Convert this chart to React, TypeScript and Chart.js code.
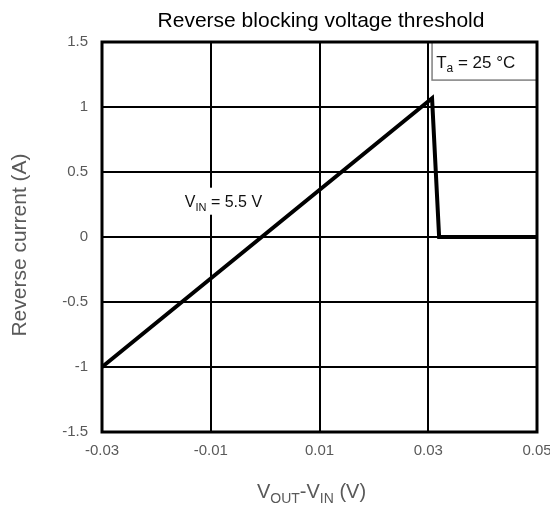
import React, { useEffect, useRef } from "react";
import { Chart, registerables } from "chart.js";

Chart.register(...registerables);

// ---- data ----
const vDiff = [-0.03, 0.0307, 0.032, 0.05];
const reverseCurrent = [-1.0, 1.067, 0, 0];
const xTicks = [-0.03, -0.01, 0.01, 0.03, 0.05];
const yTicks = [-1.5, -1, -0.5, 0, 0.5, 1, 1.5];
const chartTitle = "Reverse blocking voltage threshold";
const yTitle = "Reverse current (A)";
const xTitleParts = [
  { t: "V" },
  { t: "OUT", sub: true },
  { t: "-V" },
  { t: "IN", sub: true },
  { t: " (V)" },
];
const vinParts = [{ t: "V" }, { t: "IN", sub: true }, { t: " = 5.5 V" }];
const taParts = [{ t: "T" }, { t: "a", sub: true }, { t: " = 25 °C" }];
// annotation anchors (data coordinates)
const vinAnchor = { x: -0.01477, y: 0.233 };
const taAnchor = { x: 0.03146, y: 1.302 };
const taBox = { x0: 0.0307, x1: 0.05, y0: 1.207, y1: 1.5 };

const FONT = "'Liberation Sans', Arial, sans-serif";
const GRAY = "#595959";

type Part = { t: string; sub?: boolean };

function drawRich(
  ctx: CanvasRenderingContext2D,
  parts: Part[],
  x: number,
  y: number,
  size: number,
  subSize: number,
  subDy: number,
  align: "left" | "center"
) {
  const widths = parts.map((p) => {
    ctx.font = `${p.sub ? subSize : size}px ${FONT}`;
    return ctx.measureText(p.t).width;
  });
  const total = widths.reduce((a, b) => a + b, 0);
  let cx = align === "center" ? x - total / 2 : x;
  ctx.textAlign = "left";
  ctx.textBaseline = "alphabetic";
  parts.forEach((p, i) => {
    ctx.font = `${p.sub ? subSize : size}px ${FONT}`;
    ctx.fillText(p.t, cx, y + (p.sub ? subDy : 0));
    cx += widths[i];
  });
  return total;
}

const decorPlugin = {
  id: "decor",
  beforeDatasetsDraw(chart: any) {
    const { ctx, chartArea: a, scales } = chart;
    const xs = scales.x;
    const ys = scales.y;
    ctx.save();
    const bx0 = xs.getPixelForValue(taBox.x0);
    const bx1 = xs.getPixelForValue(taBox.x1);
    const by0 = ys.getPixelForValue(taBox.y1);
    const by1 = ys.getPixelForValue(taBox.y0);
    ctx.fillStyle = "#ffffff";
    ctx.fillRect(bx0, by0, bx1 - bx0, by1 - by0);
    ctx.strokeStyle = "#808080";
    ctx.lineWidth = 1.5;
    ctx.strokeRect(bx0, by0, bx1 - bx0, by1 - by0);
    ctx.strokeStyle = "#000000";
    ctx.lineWidth = 3;
    ctx.strokeRect(a.left, a.top, a.right - a.left, a.bottom - a.top);
    ctx.fillStyle = "#111111";
    drawRich(
      ctx,
      taParts,
      xs.getPixelForValue(taAnchor.x),
      ys.getPixelForValue(taAnchor.y),
      17,
      12,
      4,
      "left"
    );
    ctx.restore();
  },
  afterDatasetsDraw(chart: any) {
    const { ctx, scales } = chart;
    const xs = scales.x;
    const ys = scales.y;
    ctx.save();
    const vx = xs.getPixelForValue(vinAnchor.x);
    const vy = ys.getPixelForValue(vinAnchor.y);
    let w = 0;
    vinParts.forEach((p) => {
      ctx.font = `${p.sub ? 11 : 16}px ${FONT}`;
      w += ctx.measureText(p.t).width;
    });
    ctx.fillStyle = "#ffffff";
    ctx.fillRect(vx - 3, vy - 19, w + 6, 27);
    ctx.fillStyle = "#111111";
    drawRich(ctx, vinParts, vx, vy, 16, 11, 4, "left");
    ctx.restore();
  },
  afterDraw(chart: any) {
    const { ctx, chartArea: a } = chart;
    ctx.save();
    const cx = (a.left + a.right) / 2;
    const cy = (a.top + a.bottom) / 2;
    ctx.fillStyle = "#000000";
    ctx.font = `21px ${FONT}`;
    ctx.textAlign = "center";
    ctx.textBaseline = "alphabetic";
    ctx.fillText(chartTitle, cx + 1.5, a.top - 15);
    ctx.fillStyle = GRAY;
    ctx.save();
    ctx.translate(20, cy + 8);
    ctx.rotate(-Math.PI / 2);
    ctx.font = `21px ${FONT}`;
    ctx.textAlign = "center";
    ctx.textBaseline = "middle";
    ctx.fillText(yTitle, 0, 0);
    ctx.restore();
    drawRich(ctx, xTitleParts, cx - 8, a.bottom + 66, 20, 14, 5, "center");
    ctx.restore();
  },
};

export default function App() {
  const ref = useRef<HTMLCanvasElement | null>(null);
  useEffect(() => {
    if (!ref.current) return;
    const chart = new Chart(ref.current, {
      type: "scatter",
      data: {
        datasets: [
          {
            data: vDiff.map((x, i) => ({ x, y: reverseCurrent[i] })),
            showLine: true,
            borderColor: "#000000",
            borderWidth: 4,
            pointRadius: 0,
            tension: 0,
          },
        ],
      },
      options: {
        responsive: false,
        animation: false,
        devicePixelRatio: 1,
        layout: { padding: { top: 42, right: 13, left: 8, bottom: 0 } },
        plugins: {
          legend: { display: false },
          tooltip: { enabled: false },
          title: { display: false },
        },
        scales: {
          x: {
            type: "linear",
            min: -0.03,
            max: 0.05,
            afterBuildTicks: (s: any) => {
              s.ticks = xTicks.map((v) => ({ value: v }));
            },
            afterFit: (s: any) => {
              s.height = 74;
              s.paddingLeft = 0;
              s.paddingRight = 0;
            },
            ticks: {
              padding: 10,
              color: GRAY,
              font: { family: FONT, size: 15 },
              maxRotation: 0,
              autoSkip: false,
              callback: (v: any) => String(v),
            },
            grid: { color: "#000000", lineWidth: 2, drawTicks: false },
            border: { display: false },
          },
          y: {
            type: "linear",
            min: -1.5,
            max: 1.5,
            afterBuildTicks: (s: any) => {
              s.ticks = yTicks.map((v) => ({ value: v }));
            },
            afterFit: (s: any) => {
              s.width = 94;
              s.paddingTop = 0;
              s.paddingBottom = 0;
            },
            ticks: {
              padding: 14,
              color: GRAY,
              font: { family: FONT, size: 15 },
              autoSkip: false,
              callback: (v: any) => String(v),
            },
            grid: { color: "#000000", lineWidth: 2, drawTicks: false },
            border: { display: false },
          },
        },
      },
      plugins: [decorPlugin],
    });
    return () => chart.destroy();
  }, []);
  return (
    <div style={{ position: "fixed", left: 0, top: 0, width: 550, height: 506 }}>
      <canvas ref={ref} width={550} height={506} style={{ display: "block" }} />
    </div>
  );
}
